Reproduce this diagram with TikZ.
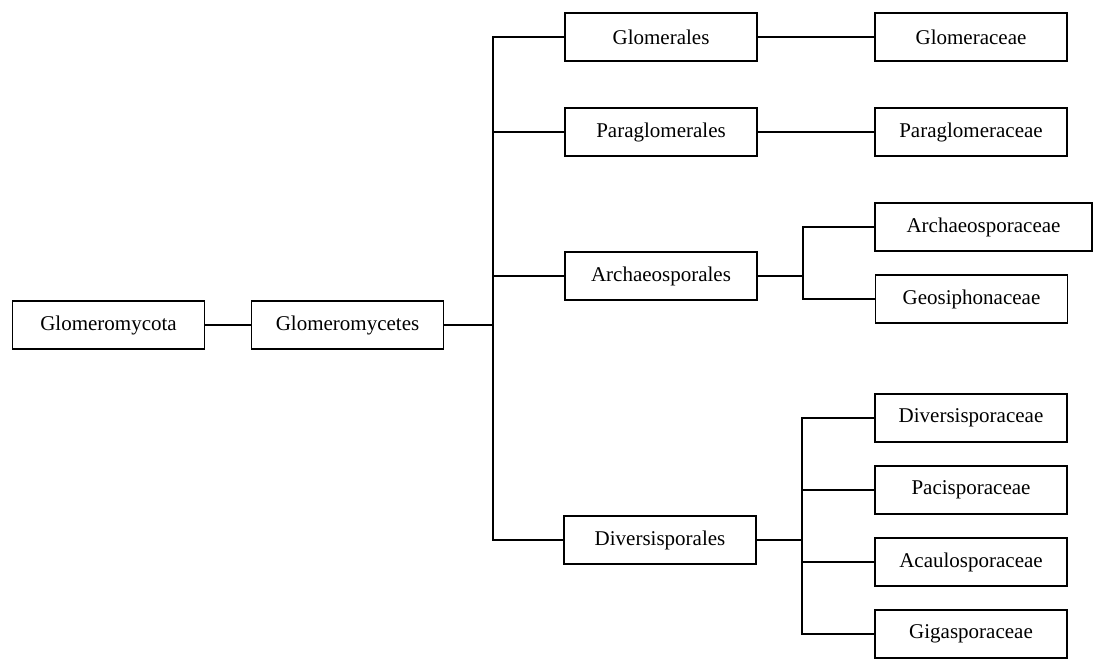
\documentclass[tikz,border=0pt]{standalone}
\usepackage{fontspec}
\setmainfont{Liberation Serif}
\begin{document}
\begin{tikzpicture}[x=1pt,y=-1pt,
  box/.style={draw, line width=1.8pt, minimum width=192pt, minimum height=48pt, inner sep=0pt, font=\fontsize{21}{25}\selectfont},
  link/.style={line width=1.8pt}]
\useasboundingbox (0,0) rectangle (1094,659);
% phylum and class
\node[box] (phy) at (108.5,325) {Glomeromycota};
\node[box] (cls) at (347.5,325) {Glomeromycetes};
% orders
\node[box] (ord1) at (661,37) {Glomerales};
\node[box] (ord2) at (661,132) {Paraglomerales};
\node[box] (ord3) at (661,276) {Archaeosporales};
\node[box] (ord4) at (660,540) {Diversisporales};
% families
\node[box] (fam1) at (971,37) {Glomeraceae};
\node[box] (fam2) at (971,132) {Paraglomeraceae};
\node[box, minimum width=217pt] (fam3) at (983.5,227) {Archaeosporaceae};
\node[box] (fam4) at (971.5,299) {Geosiphonaceae};
\node[box] (fam5) at (971,418) {Diversisporaceae};
\node[box] (fam6) at (971,490) {Pacisporaceae};
\node[box] (fam7) at (971,562) {Acaulosporaceae};
\node[box] (fam8) at (971,634) {Gigasporaceae};
% joints
\coordinate (trunk) at (493,325);
\coordinate (ja) at (803,276);
\coordinate (jd) at (802,540);
% connectors
\draw[link] (phy.east) -- (cls.west);
\draw[link] (cls.east) -- (trunk);
\draw[link] (trunk) |- (ord1.west);
\draw[link] (trunk) |- (ord2.west);
\draw[link] (trunk) |- (ord3.west);
\draw[link] (trunk) |- (ord4.west);
\draw[link] (ord1.east) -- (fam1.west);
\draw[link] (ord2.east) -- (fam2.west);
\draw[link] (ord3.east) -- (ja);
\draw[link] (ja) |- (fam3.west);
\draw[link] (ja) |- (fam4.west);
\draw[link] (ord4.east) -- (jd);
\draw[link] (jd) |- (fam5.west);
\draw[link] (jd) |- (fam6.west);
\draw[link] (jd) |- (fam7.west);
\draw[link] (jd) |- (fam8.west);
\end{tikzpicture}
\end{document}
